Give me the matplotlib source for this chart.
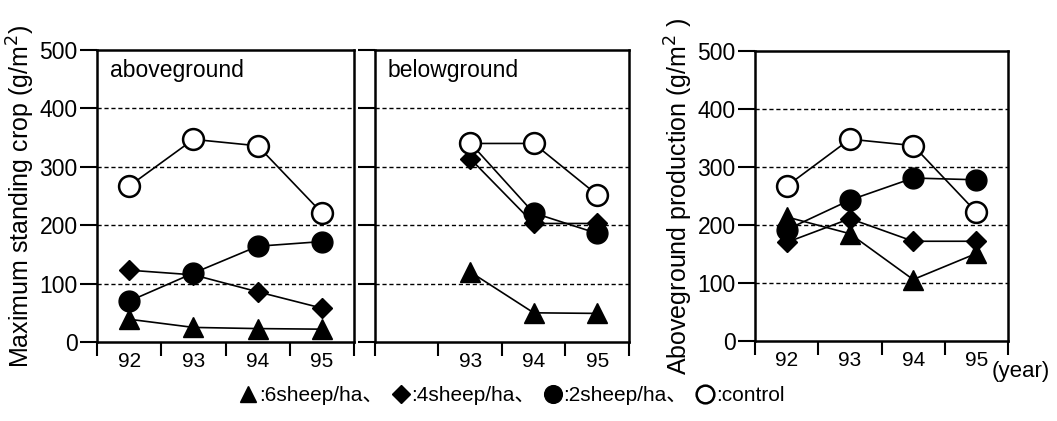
import numpy as np
import matplotlib.pyplot as plt
from matplotlib.lines import Line2D

plt.rcParams['font.family'] = ['Liberation Sans', 'DejaVu Sans', 'Noto Sans CJK JP']

years = ['92', '93', '94', '95']

# aboveground maximum standing crop (g/m2)
above_6 = [39, 25, 23, 22]
above_4 = [123, 115, 86, 58]
above_2 = [70, 118, 164, 172]
above_ctl = [267, 347, 336, 221]

# belowground maximum standing crop (g/m2), no data in 92
below_6 = [np.nan, 120, 50, 49]
below_4 = [np.nan, 314, 203, 203]
below_2 = [np.nan, 341, 221, 186]
below_ctl = [np.nan, 340, 340, 252]

# aboveground production (g/m2)
prod_6 = [214, 185, 106, 151]
prod_4 = [170, 211, 172, 172]
prod_2 = [192, 243, 281, 278]
prod_ctl = [267, 348, 337, 222]

series_style = [
    dict(marker='^', ms=14, mfc='black', mec='black'),
    dict(marker='D', ms=10.5, mfc='black', mec='black'),
    dict(marker='o', ms=15, mfc='black', mec='black'),
    dict(marker='o', ms=15, mfc='white', mec='black', mew=1.8),
]
legend_labels = [':6sheep/ha\u3001', ':4sheep/ha\u3001', ':2sheep/ha\u3001', ':control']

fig = plt.figure(figsize=(10.57, 4.21), dpi=100)
ax1 = fig.add_axes([0.0918, 0.1876, 0.2432, 0.6936])
ax2 = fig.add_axes([0.3548, 0.1876, 0.2402, 0.6936])
ax3 = fig.add_axes([0.7143, 0.1900, 0.2394, 0.6888])

panels = [
    (ax1, [above_6, above_4, above_2, above_ctl]),
    (ax2, [below_6, below_4, below_2, below_ctl]),
    (ax3, [prod_6, prod_4, prod_2, prod_ctl]),
]

x = np.arange(len(years))
for ax, data in panels:
    for vals, st in zip(data, series_style):
        ax.plot(x, vals, color='black', lw=1.2, zorder=3, **st)
    ax.set_xlim(-0.5, 3.5)
    ax.set_ylim(0, 500)
    ax.set_yticks(np.arange(0, 501, 100))
    ax.set_xticks(x)
    ax.set_xticks(np.arange(-0.5, 3.6, 1), minor=True)
    ax.tick_params(axis='x', which='major', length=0, pad=7, labelsize=15)
    ax.tick_params(axis='x', which='minor', length=10, width=1.5, direction='out')
    ax.tick_params(axis='y', length=12, width=1.5, direction='out', labelsize=16.5, pad=2)
    for s in ax.spines.values():
        s.set_linewidth(1.8)
    for yv in [100, 200, 300, 400]:
        ax.axhline(yv, color='black', lw=1.0, ls=(0, (3, 2)), zorder=1)

ax1.set_xticklabels(years)
ax2.set_xticklabels([''] + years[1:])
ax2.set_yticklabels([])
ax3.set_xticklabels(years)

ax1.set_ylabel('Maximum standing crop (g/m$^2$)', fontsize=18, labelpad=2)
ax3.set_ylabel('Aboveground production (g/m$^2$ )', fontsize=18, labelpad=2)

ax1.text(0.05, 0.93, 'aboveground', transform=ax1.transAxes, fontsize=16.5, va='center')
ax2.text(0.05, 0.93, 'belowground', transform=ax2.transAxes, fontsize=16.5, va='center')
ax3.text(0.935, -0.105, '(year)', transform=ax3.transAxes, fontsize=16, va='center', ha='left')

handles = [Line2D([], [], linestyle='none', color='black',
                  **{**st, 'ms': st['ms'] * 0.85}) for st in series_style]
fig.legend(handles, legend_labels, loc='center', bbox_to_anchor=(0.485, 0.06), ncol=4,
           frameon=False, fontsize=15, handlelength=0.7, handletextpad=0.15,
           columnspacing=0.5)

fig.savefig('out.png', dpi=100)
